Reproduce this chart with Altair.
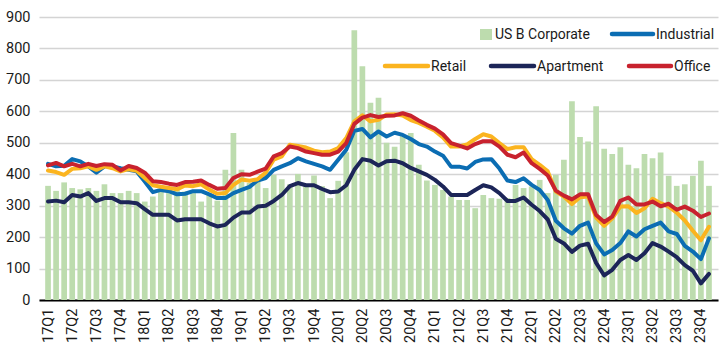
import json
import altair as alt
import pandas as pd

# ---------------- data ----------------
quarters = ["17Q1", "17Q2", "17Q3", "17Q4", "18Q1", "18Q2", "18Q3", "18Q4",
            "19Q1", "19Q2", "19Q3", "19Q4", "20Q1", "20Q2", "20Q3", "20Q4",
            "21Q1", "21Q2", "21Q3", "21Q4", "22Q1", "22Q2", "22Q3", "22Q4",
            "23Q1", "23Q2", "23Q3", "23Q4"]

us_b_corporate = [363, 347, 374, 356, 352, 356, 347, 368, 340, 340, 347, 340,
                  313, 329, 345, 340, 350, 345, 340, 313, 334, 316, 414, 531,
                  414, 372, 380, 356, 398, 384, 368, 401, 366, 396, 362, 324,
                  379, 470, 858, 743, 627, 643, 500, 487, 522, 531, 430, 380,
                  366, 350, 329, 318, 318, 292, 334, 324, 322, 324, 366, 356,
                  361, 382, 340, 398, 446, 632, 518, 504, 616, 481, 464, 486,
                  430, 419, 464, 451, 469, 395, 363, 368, 395, 443, 363]

industrial = [433, 425, 427, 448, 441, 425, 405, 425, 425, 419, 414, 409,
              377, 343, 350, 346, 336, 338, 346, 346, 336, 324, 324, 340,
              350, 360, 380, 388, 414, 425, 435, 451, 441, 433, 425, 414,
              446, 478, 538, 544, 517, 536, 520, 532, 525, 512, 496, 488,
              472, 459, 424, 424, 418, 439, 447, 448, 418, 380, 375, 387,
              366, 350, 318, 252, 228, 211, 236, 246, 180, 145, 159, 181,
              218, 202, 225, 236, 246, 218, 210, 172, 154, 130, 196]

apartment = [313, 316, 311, 334, 329, 340, 315, 324, 324, 311, 311, 308,
             289, 271, 271, 271, 253, 257, 257, 257, 244, 234, 239, 262,
             278, 278, 297, 300, 315, 334, 362, 372, 365, 365, 353, 343,
             345, 365, 414, 448, 443, 428, 441, 443, 435, 420, 409, 398,
             382, 361, 334, 334, 334, 350, 365, 358, 340, 315, 315, 326,
             303, 283, 256, 195, 180, 153, 173, 179, 118, 78, 96, 127,
             143, 127, 149, 181, 170, 154, 136, 111, 93, 53, 83]

retail = [412, 407, 398, 417, 419, 425, 414, 425, 419, 409, 416, 411,
          388, 365, 360, 356, 352, 364, 362, 368, 351, 338, 340, 366,
          383, 379, 384, 405, 446, 457, 494, 490, 485, 475, 470, 472,
          483, 515, 568, 587, 568, 573, 590, 591, 587, 572, 563, 551,
          538, 517, 488, 488, 495, 512, 527, 520, 499, 480, 486, 486,
          448, 430, 409, 345, 329, 305, 327, 329, 262, 236, 260, 297,
          298, 277, 292, 322, 308, 297, 278, 253, 220, 190, 233]

office = [428, 436, 425, 433, 425, 433, 426, 432, 430, 412, 426, 420,
          405, 378, 375, 370, 366, 375, 376, 380, 366, 354, 356, 388,
          400, 398, 408, 418, 457, 467, 488, 483, 472, 467, 462, 462,
          472, 499, 560, 580, 588, 582, 586, 587, 594, 586, 571, 557,
          545, 527, 499, 491, 482, 496, 505, 505, 488, 462, 454, 469,
          435, 417, 396, 348, 332, 320, 336, 336, 270, 248, 265, 315,
          326, 304, 304, 313, 298, 306, 287, 297, 284, 264, 275]

series_names = ["Industrial", "Apartment", "Retail", "Office"]
series_values = [industrial, apartment, retail, office]
series_colors = ["#0b6db3", "#1c2558", "#fbb41f", "#c8222e"]
bar_name = "US B Corporate"
bar_color = "#bddcae"

# ---------------- layout / style ----------------
FONT = "Roboto"
FS = 14
TXT = "#1a1a1a"
W, H = 679, 283
PAD = {"left": 39, "top": 17, "right": 9, "bottom": 52}
n = len(us_b_corporate)

x_scale = alt.Scale(domain=[-0.5, n - 0.5], nice=False, zero=False)
y_scale = alt.Scale(domain=[0, 900], nice=False)

label_expr = json.dumps(quarters) + "[floor(datum.value / 3)]"

x_axis = alt.Axis(values=list(range(0, n, 3)), labelExpr=label_expr,
                  labelAngle=-90, grid=False, ticks=False, domainColor="#000000",
                  domainWidth=2, labelPadding=8, labelFontSize=FS + 0.5, labelFont=FONT,
                  labelColor=TXT, labelOverlap=False, labelFlush=False, title=None)
y_axis = alt.Axis(values=list(range(0, 1000, 100)), grid=True, gridColor="#d4d4d4",
                  gridWidth=1.3, domain=False, ticks=False, labelPadding=9,
                  labelFontSize=FS + 0.5, labelFont=FONT, labelColor=TXT,
                  labelOverlap=False, labelFlush=False, title=None)

X = alt.X("m:Q", scale=x_scale, axis=x_axis)
Y = alt.Y("v:Q", scale=y_scale, axis=y_axis)

df_bar = pd.DataFrame({"m": list(range(n)), "v": us_b_corporate})
bars = alt.Chart(df_bar).mark_bar(size=5.7, color=bar_color).encode(x=X, y=Y)

layers = [bars]
for name, vals, col in zip(series_names, series_values, series_colors):
    d = pd.DataFrame({"m": list(range(n)), "v": vals, "s": name})
    layers.append(
        alt.Chart(d).mark_line(color=col, strokeWidth=4, strokeJoin="round",
                               strokeCap="round").encode(x=X, y=Y)
    )

# ---------------- legend (drawn by hand to match the two-row layout) ----------------
one = pd.DataFrame({"a": [0]})
ROW1, ROW2 = 17, 49
legend_lines = {  # name: (x start, x end, row y, text x)
    "Industrial": (573, 614, ROW1, 617),
    "Retail": (346, 389, ROW2, 392),
    "Apartment": (452, 495, ROW2, 498),
    "Office": (590, 632, ROW2, 635),
}
layers.append(alt.Chart(one).mark_rect(color=bar_color).encode(
    x=alt.value(441), x2=alt.value(453), y=alt.value(ROW1 - 5), y2=alt.value(ROW1 + 6)))
layers.append(alt.Chart(one).mark_text(
    text=bar_name, align="left", baseline="middle", font=FONT, fontSize=FS, color=TXT
).encode(x=alt.value(456), y=alt.value(ROW1 + 1)))
for name, col in zip(series_names, series_colors):
    x0, x1, yy, tx = legend_lines[name]
    layers.append(alt.Chart(one).mark_rule(color=col, strokeWidth=4.5, strokeCap="round").encode(
        x=alt.value(x0), x2=alt.value(x1), y=alt.value(yy)))
    layers.append(alt.Chart(one).mark_text(
        text=name, align="left", baseline="middle", font=FONT, fontSize=FS, color=TXT
    ).encode(x=alt.value(tx), y=alt.value(yy + 1)))

chart = alt.layer(*layers).properties(
    width=W, height=H, padding=PAD,
    autosize=alt.AutoSizeParams(type="none"),
    background="white",
).configure_view(stroke=None)

chart.save("out.html", embed_options={"renderer": "svg", "actions": False})
